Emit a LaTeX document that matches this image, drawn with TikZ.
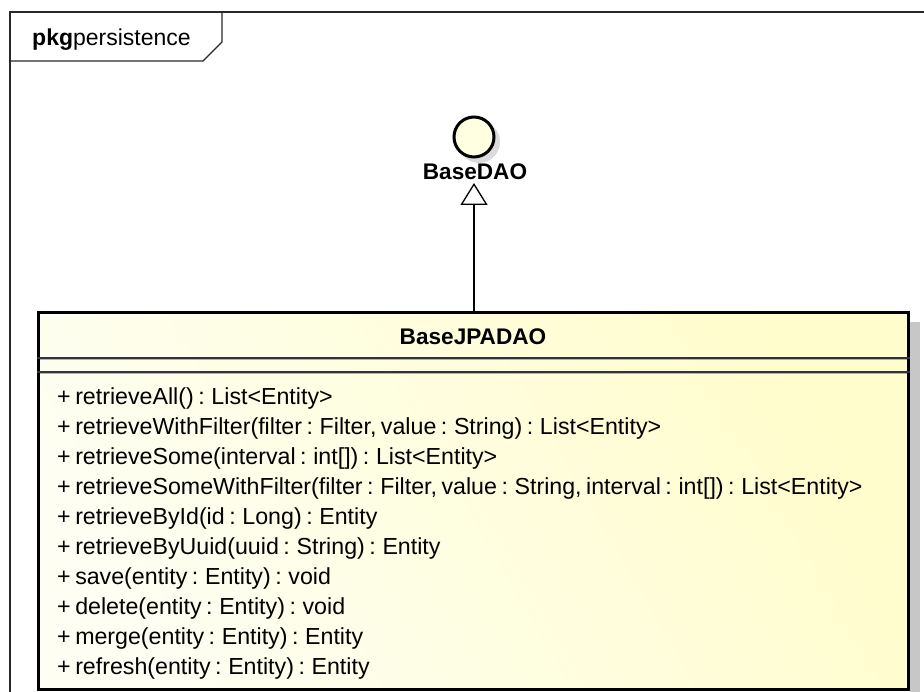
\documentclass[tikz,border=0pt]{standalone}
\usepackage{fontspec}
\setmainfont{Liberation Sans}[WordSpace=0.7]
\usetikzlibrary{arrows.meta}

\definecolor{noteyellow}{RGB}{255,255,226}
\definecolor{boxlight}{RGB}{254,254,242}
\definecolor{boxdark}{RGB}{255,253,204}
\definecolor{framegray}{RGB}{40,40,40}

\tikzset{
  pkgframe/.style={draw=framegray, line width=1.2pt},
  classbox/.style={draw=black, line width=3pt, shade, left color=boxlight, right color=boxdark, shading angle=120, inner sep=0pt},
  sepline/.style={draw=black!80, line width=1.5pt},
  sepshade/.style={draw=black!30, line width=1pt},
  member/.style={anchor=base west, inner sep=0pt, font=\fontsize{23.2}{27}\selectfont},
  classname/.style={anchor=base, inner sep=0pt, font=\fontsize{22.6}{27}\selectfont\bfseries},
  lollipop/.style={circle, draw=black, line width=3pt, fill=noteyellow, minimum size=40pt, inner sep=0pt},
  realize/.style={draw=black, line width=1.3pt, -{Triangle[open, length=22pt, width=27pt, line width=1.3pt]}}
}

\begin{document}
\begin{tikzpicture}[x=1pt, y=-1pt]
  \useasboundingbox (0,0) rectangle (924,692);
  \fill[white] (0,0) rectangle (924,692);

  % package frame with its name tab
  \draw[pkgframe] (10,700) -- (10,12) -- (930,12);
  \draw[pkgframe] (10,61) -- (203,61) -- (222,42) -- (222,12);
  \node[anchor=base west, inner sep=0pt, font=\fontsize{23}{27}\selectfont] (pkgname) at (32,46) {\textbf{pkg}persistence};

  % provided interface (lollipop) with its soft shadow
  \fill[black!14] (479,142) circle (21);
  \node[lollipop] (dao) at (474,137) {};
  \node[classname] (daolabel) at (475,180) {BaseDAO};
  \coordinate (daotip) at (474,183);

  % class shadow strip and class box
  \fill[black!22] (910,322) rectangle (920,700);
  \node[classbox, minimum width=870pt, minimum height=376pt] (jpa) at (473,501) {};
  \node[classname] (jpaname) at (473,345) {BaseJPADAO};

  % compartment separators
  \draw[sepline] (jpa.west |- 0,358) -- (jpa.east |- 0,358);
  \draw[sepshade] (39.5,360) -- (906.5,360);
  \draw[sepline] (jpa.west |- 0,372) -- (jpa.east |- 0,372);
  \draw[sepshade] (39.5,374) -- (906.5,374);

  % operations
  \foreach \txt [count=\i from 0] in {
    {+ retrieveAll() : List<Entity>},
    {+ retrieveWithFilter(filter : Filter, value : String) : List<Entity>},
    {+ retrieveSome(interval : int[]) : List<Entity>},
    {+ retrieveSomeWithFilter(filter : Filter, value : String, interval : int[]) : List<Entity>},
    {+ retrieveById(id : Long) : Entity},
    {+ retrieveByUuid(uuid : String) : Entity},
    {+ save(entity : Entity) : void},
    {+ delete(entity : Entity) : void},
    {+ merge(entity : Entity) : Entity},
    {+ refresh(entity : Entity) : Entity}}
    \node[member] (op\i) at (57, 405+29.9*\i) {\txt};

  % realization of the interface
  \draw[realize] (jpa.north -| daotip) -- (daotip);
\end{tikzpicture}
\end{document}
